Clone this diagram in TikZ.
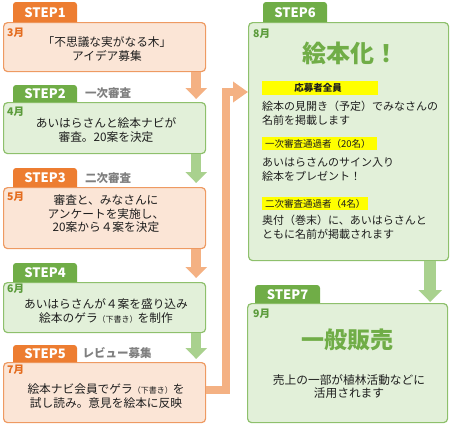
\documentclass[tikz,border=0pt]{standalone}
\usepackage{fontspec}
\setmainfont{Noto Sans CJK JP}
\usetikzlibrary{arrows.meta}
\definecolor{otab}{HTML}{ED7D31}
\definecolor{ofill}{HTML}{FBE5D6}
\definecolor{oline}{HTML}{EE9A62}
\definecolor{oarr}{HTML}{F4B183}
\definecolor{omon}{HTML}{E46C1E}
\definecolor{gtab}{HTML}{70AD47}
\definecolor{gfill}{HTML}{E2F0D9}
\definecolor{gline}{HTML}{8EC06C}
\definecolor{garr}{HTML}{A9D18E}
\definecolor{gmon}{HTML}{5B9B3B}
\definecolor{gbig}{HTML}{70AD47}
\definecolor{txt}{HTML}{1E1E1E}
\definecolor{sub}{HTML}{7F7F7F}
\definecolor{hl}{HTML}{FFFF00}
\begin{document}
\begin{tikzpicture}[x=1pt,y=-1pt,
  obox/.style={draw=oline,fill=ofill,line width=1.2pt,rounded corners=4pt,anchor=north west,inner sep=0pt},
  gbox/.style={draw=gline,fill=gfill,line width=1.2pt,rounded corners=4pt,anchor=north west,inner sep=0pt},
  tabtxt/.style={text=white,font=\fontsize{13}{13}\selectfont\bfseries,inner sep=0pt},
  btxt/.style={align=center,text=txt,font=\fontsize{11.7}{13.5}\selectfont,inner sep=0pt},
  rtxt/.style={align=left,text=txt,font=\fontsize{11}{13.5}\selectfont,inner sep=0pt,anchor=north west},
  omonth/.style={text=omon,font=\fontsize{10.5}{10.5}\selectfont\bfseries,inner sep=0pt,anchor=west},
  gmonth/.style={text=gmon,font=\fontsize{10.5}{10.5}\selectfont\bfseries,inner sep=0pt,anchor=west},
  subt/.style={text=sub,font=\fontsize{11.5}{12}\selectfont\bfseries,inner sep=0pt},
  hlbox/.style={fill=hl,inner sep=0pt,anchor=north west},
  hltxt/.style={text=txt,font=\fontsize{9.5}{10}\selectfont,inner sep=0pt},
  oarrow/.style={draw=oarr,line width=10pt,-{Triangle[width=21pt,length=11pt]}},
  garrow/.style={draw=garr,line width=10pt,-{Triangle[width=21pt,length=11pt]}},
  elbow/.style={draw=oarr,line width=8pt,miter limit=10,-{Triangle[width=20pt,length=15pt]}}
]
\useasboundingbox (0,0) rectangle (450,424);
\newcommand{\halfw}{\fontsize{8}{8}\selectfont}
% ---------- left column boxes ----------
\node[obox,minimum width=202pt,minimum height=49pt] (b1) at (3,22) {};
\node[gbox,minimum width=202pt,minimum height=51pt] (b2) at (3,102) {};
\node[obox,minimum width=202pt,minimum height=61pt] (b3) at (3,187) {};
\node[gbox,minimum width=202pt,minimum height=50pt] (b4) at (3,282) {};
\node[obox,minimum width=202pt,minimum height=60pt] (b5) at (3,362) {};
% ---------- right column boxes ----------
\node[gbox,minimum width=200pt,minimum height=238pt] (b6) at (248,22) {};
\node[gbox,minimum width=200pt,minimum height=119pt] (b7) at (247,303) {};
% ---------- tabs ----------
\fill[otab] (13,22) [rounded corners=3pt] -- (13,2) -- (77,2) [sharp corners] -- (77,22) -- cycle;
\fill[gtab] (13,102) [rounded corners=3pt] -- (13,85) -- (77,85) [sharp corners] -- (77,102) -- cycle;
\fill[otab] (13,187) [rounded corners=3pt] -- (13,168) -- (77,168) [sharp corners] -- (77,187) -- cycle;
\fill[gtab] (13,282) [rounded corners=3pt] -- (13,263) -- (77,263) [sharp corners] -- (77,282) -- cycle;
\fill[otab] (13,362) [rounded corners=3pt] -- (13,345) -- (77,345) [sharp corners] -- (77,362) -- cycle;
\fill[gtab] (263,22) [rounded corners=3pt] -- (263,2) -- (327,2) [sharp corners] -- (327,22) -- cycle;
\fill[gtab] (255,303) [rounded corners=3pt] -- (255,285) -- (320,285) [sharp corners] -- (320,303) -- cycle;
\node[tabtxt] (t1) at (45,12.5) {STEP1};
\node[tabtxt] (t2) at (45,94) {STEP2};
\node[tabtxt] (t3) at (45,178) {STEP3};
\node[tabtxt] (t4) at (45,273) {STEP4};
\node[tabtxt] (t5) at (45,354) {STEP5};
\node[tabtxt] (t6) at (295,12.5) {STEP6};
\node[tabtxt] (t7) at (287.5,294.5) {STEP7};
% ---------- subtitles ----------
\node[subt] (s2) at (108,93) {一次審査};
\node[subt] (s3) at (108,178) {二次審査};
\node[subt] (s5) at (117,353) {レビュー募集};
% ---------- months ----------
\node[omonth] (m1) at (7,33) {3月};
\node[gmonth] (m2) at (7,112) {4月};
\node[omonth] (m3) at (7,197) {5月};
\node[gmonth] (m4) at (7,289) {6月};
\node[omonth] (m5) at (7,370) {7月};
\node[gmonth] (m6) at (253,34) {8月};
\node[gmonth] (m7) at (253,314) {9月};
% ---------- left texts ----------
\node[btxt] (x1) at (107,49) {「不思議な実がなる木」\\アイデア募集};
\node[btxt] (x2) at (106,130) {あいはらさんと絵本ナビが\\審査。20案を決定};
\node[btxt] (x3) at (106,214) {審査と、みなさんに\\アンケートを実施し、\\20案から４案を決定};
\node[btxt] (x4) at (106,311) {あいはらさんが４案を盛り込み\\絵本のゲラ{\halfw（下書き）}を制作};
\node[btxt] (x5) at (106,396) {絵本ナビ会員でゲラ{\halfw（下書き）}を\\試し読み。意見を絵本に反映};
% ---------- right box 6 ----------
\node[text=gbig,font=\fontsize{24}{24}\selectfont\bfseries,inner sep=0pt] (big6) at (350,53) {絵本化！};
\node[hlbox,minimum width=116pt,minimum height=14pt] (h1) at (262,81) {};
\node[hltxt,font=\fontsize{9.5}{10}\selectfont\bfseries] (h1t) at (318,88) {応募者全員};
\node[rtxt] (r1) at (262,101) {絵本の見開き（予定）でみなさんの\\名前を掲載します};
\node[hlbox,minimum width=115pt,minimum height=13pt] (h2) at (262,137) {};
\node[hltxt,anchor=west] (h2t) at (265,143.5) {一次審査通過者（20名）};
\node[rtxt] (r2) at (262,158) {あいはらさんのサイン入り\\絵本をプレゼント！};
\node[hlbox,minimum width=106pt,minimum height=13pt] (h3) at (262,197) {};
\node[hltxt,anchor=west] (h3t) at (265,203.5) {二次審査通過者（4名）};
\node[rtxt] (r3) at (262,215) {奥付（巻末）に、あいはらさんと\\ともに名前が掲載されます};
% ---------- right box 7 ----------
\node[text=gbig,font=\fontsize{23}{23}\selectfont\bfseries,inner sep=0pt] (big7) at (347,340) {一般販売};
\node[btxt] (x7) at (349,386.5) {売上の一部が植林活動などに\\活用されます};
% ---------- connectors ----------
\draw[oarrow] ([xshift=-10pt]b1.south east) -- ([xshift=-10pt,yshift=3pt]b2.north east);
\draw[garrow] ([xshift=-10pt]b2.south east) -- ([xshift=-10pt,yshift=4pt]b3.north east);
\draw[oarrow] ([xshift=-10pt]b3.south east) -- ([xshift=-10pt,yshift=4pt]b4.north east);
\draw[garrow] ([xshift=-10pt]b4.south east) -- ([xshift=-10pt,yshift=3pt]b5.north east);
\coordinate (e1) at (226,92);
\draw[elbow] ([yshift=3pt]b5.east) -| (e1) -- (e1 -| b6.west);
\draw[garr,line width=12pt,-{Triangle[width=23pt,length=12pt]}] ([xshift=-19pt]b6.south east) -- ([xshift=-18pt,yshift=1pt]b7.north east);
\end{tikzpicture}
\end{document}
